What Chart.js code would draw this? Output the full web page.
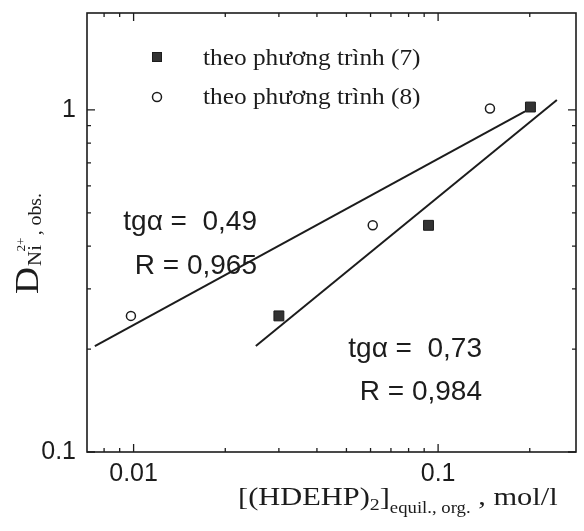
<!DOCTYPE html>
<html>
<head>
<meta charset="utf-8">
<script src="https://cdn.jsdelivr.net/npm/chart.js@4.4.1/dist/chart.umd.min.js"></script>
<style>
  html, body { margin: 0; padding: 0; background: #fff; }
  #wrap { width: 584px; height: 531px; }
</style>
</head>
<body>
<div id="wrap"><canvas id="chart" width="584" height="531"></canvas></div>
<script>
// du lieu doc tu hinh
const eq7X = [0.030, 0.093, 0.201];
const eq7Y = [0.25, 0.46, 1.02];
const eq8X = [0.0098, 0.061, 0.148];
const eq8Y = [0.25, 0.46, 1.01];

// duong hoi quy (tgα = 0,49 va tgα = 0,73)
const fit8X = [0.00746, 0.193];
const fit8Y = [0.204, 0.99];
const fit7X = [0.0252, 0.2455];
const fit7Y = [0.204, 1.069];

const xMajor = [0.01, 0.1];
const xTickLabels = ['0.01', '0.1'];
const xMinor = [0.008, 0.009, 0.02, 0.03, 0.04, 0.05, 0.06, 0.07, 0.08, 0.09, 0.2];
const yMajor = [0.1, 1];
const yTickLabels = ['0.1', '1'];
const yMinor = [0.2, 0.3, 0.4, 0.5, 0.6, 0.7, 0.8, 0.9];

const legendLabels = ['theo phương trình (7)', 'theo phương trình (8)'];

const INK = '#1c1c1c';
const SERIF = '"Liberation Serif", "Times New Roman", serif';
const SANS = '"Liberation Sans", Arial, sans-serif';

function toPoints(xs, ys) {
    return xs.map((x, i) => ({ x: x, y: ys[i] }));
}

// ve chuoi chu co chi so tren/duoi
function drawRuns(ctx, runs, x, y, sx, rot) {
    ctx.save();
    ctx.translate(x, y);
    if (rot) ctx.rotate(rot);
    ctx.scale(sx, 1);
    ctx.fillStyle = INK;
    ctx.textBaseline = 'alphabetic';
    ctx.textAlign = 'left';
    let cx = 0;
    runs.forEach(r => {
        ctx.font = r.s + 'px ' + SERIF;
        const start = cx - (r.back || 0);
        ctx.fillText(r.t, start, r.dy || 0);
        cx = Math.max(cx, start + ctx.measureText(r.t).width) + (r.gap || 0);
    });
    ctx.restore();
}

// bo padding tu dong cua truc
function noPad(scale) {
    scale.paddingTop = 0;
    scale.paddingBottom = 0;
    scale.paddingLeft = 0;
    scale.paddingRight = 0;
}

const framePlugin = {
    id: 'frame',
    beforeDatasetsDraw(chart) {
        const ctx = chart.ctx;
        const a = chart.chartArea;
        const xs = chart.scales.x, ys = chart.scales.y;
        ctx.save();
        ctx.strokeStyle = INK;
        ctx.lineWidth = 1.6;
        ctx.strokeRect(a.left, a.top, a.right - a.left, a.bottom - a.top);

        ctx.lineWidth = 1.3;
        ctx.beginPath();
        const xt = (v, len) => {
            const p = xs.getPixelForValue(v);
            ctx.moveTo(p, a.bottom); ctx.lineTo(p, a.bottom - len);
            ctx.moveTo(p, a.top); ctx.lineTo(p, a.top + len);
        };
        const yt = (v, len) => {
            const p = ys.getPixelForValue(v);
            ctx.moveTo(a.left, p); ctx.lineTo(a.left + len, p);
            ctx.moveTo(a.right, p); ctx.lineTo(a.right - len, p);
        };
        xMajor.forEach(v => xt(v, 8));
        xMinor.forEach(v => xt(v, 4));
        yMajor.forEach(v => yt(v, 8));
        yMinor.forEach(v => yt(v, 4));
        ctx.stroke();
        ctx.restore();
    },
    afterDraw(chart) {
        const ctx = chart.ctx;
        ctx.save();

        // chu thich
        ctx.fillStyle = '#333';
        ctx.strokeStyle = INK;
        ctx.fillRect(152.5, 52.5, 9, 9);
        ctx.strokeRect(152.5, 52.5, 9, 9);
        ctx.lineWidth = 1.5;
        ctx.beginPath();
        ctx.arc(157, 97, 4.5, 0, Math.PI * 2);
        ctx.stroke();
        drawRuns(ctx, [{ t: legendLabels[0], s: 23 }], 203, 65, 1.1);
        drawRuns(ctx, [{ t: legendLabels[1], s: 23 }], 203, 103.5, 1.1);

        // tgα, R
        ctx.fillStyle = INK;
        ctx.font = '28px ' + SANS;
        ctx.textAlign = 'right';
        ctx.textBaseline = 'alphabetic';
        ctx.fillText('tgα =  0,49', 257, 230);
        ctx.fillText('R = 0,965', 257, 274);
        ctx.fillText('tgα =  0,73', 482, 357);
        ctx.fillText('R = 0,984', 482, 400);

        // ten truc
        drawRuns(ctx, [
            { t: '[(HDEHP)', s: 26 },
            { t: '2', s: 17, dy: 5 },
            { t: ']', s: 26 },
            { t: 'equil., org.', s: 16, dy: 8 },
            { t: ' , mol/l', s: 26 }
        ], 238, 505, 1.17, 0);

        drawRuns(ctx, [
            { t: 'D', s: 34, gap: 1 },
            { t: 'Ni', s: 19, dy: 3 },
            { t: '2+', s: 12, dy: -13, back: 6, gap: 2 },
            { t: ', obs.', s: 18, dy: 3 }
        ], 38, 294, 1.1, -Math.PI / 2);

        ctx.restore();
    }
};

new Chart(document.getElementById('chart'), {
    type: 'scatter',
    data: {
        datasets: [
            {
                label: legendLabels[0],
                data: toPoints(eq7X, eq7Y),
                pointStyle: 'rect',
                pointRadius: 7,
                pointBackgroundColor: '#333',
                pointBorderColor: INK,
                pointBorderWidth: 1,
                order: 0
            },
            {
                label: legendLabels[1],
                data: toPoints(eq8X, eq8Y),
                pointStyle: 'circle',
                pointRadius: 4.5,
                pointBackgroundColor: '#fff',
                pointBorderColor: INK,
                pointBorderWidth: 1.5,
                order: 0
            },
            {
                type: 'line',
                data: toPoints(fit8X, fit8Y),
                showLine: true,
                borderColor: INK,
                borderWidth: 2,
                pointRadius: 0,
                fill: false,
                order: 1
            },
            {
                type: 'line',
                data: toPoints(fit7X, fit7Y),
                showLine: true,
                borderColor: INK,
                borderWidth: 2,
                pointRadius: 0,
                fill: false,
                order: 1
            }
        ]
    },
    options: {
        responsive: false,
        animation: false,
        devicePixelRatio: 1,
        layout: { padding: { top: 13, right: 4, left: 0, bottom: 0 } },
        plugins: {
            legend: { display: false },
            tooltip: { enabled: false }
        },
        scales: {
            x: {
                type: 'logarithmic',
                min: 0.00703,
                max: 0.2837,
                grid: { display: false, drawTicks: false },
                border: { display: false },
                afterBuildTicks: (scale) => { scale.ticks = xMajor.map(v => ({ value: v })); },
                afterFit: (scale) => { scale.height = 79; noPad(scale); },
                ticks: {
                    padding: 7,
                    color: INK,
                    font: { family: SANS, size: 25 },
                    callback: (v) => xTickLabels[xMajor.indexOf(v)]
                }
            },
            y: {
                type: 'logarithmic',
                min: 0.1,
                max: 1.921,
                grid: { display: false, drawTicks: false },
                border: { display: false },
                afterBuildTicks: (scale) => { scale.ticks = yMajor.map(v => ({ value: v })); },
                afterFit: (scale) => { scale.width = 87; noPad(scale); },
                ticks: {
                    padding: 11,
                    color: INK,
                    font: { family: SANS, size: 25 },
                    callback: (v) => yTickLabels[yMajor.indexOf(v)]
                }
            }
        }
    },
    plugins: [framePlugin]
});
</script>
</body>
</html>
